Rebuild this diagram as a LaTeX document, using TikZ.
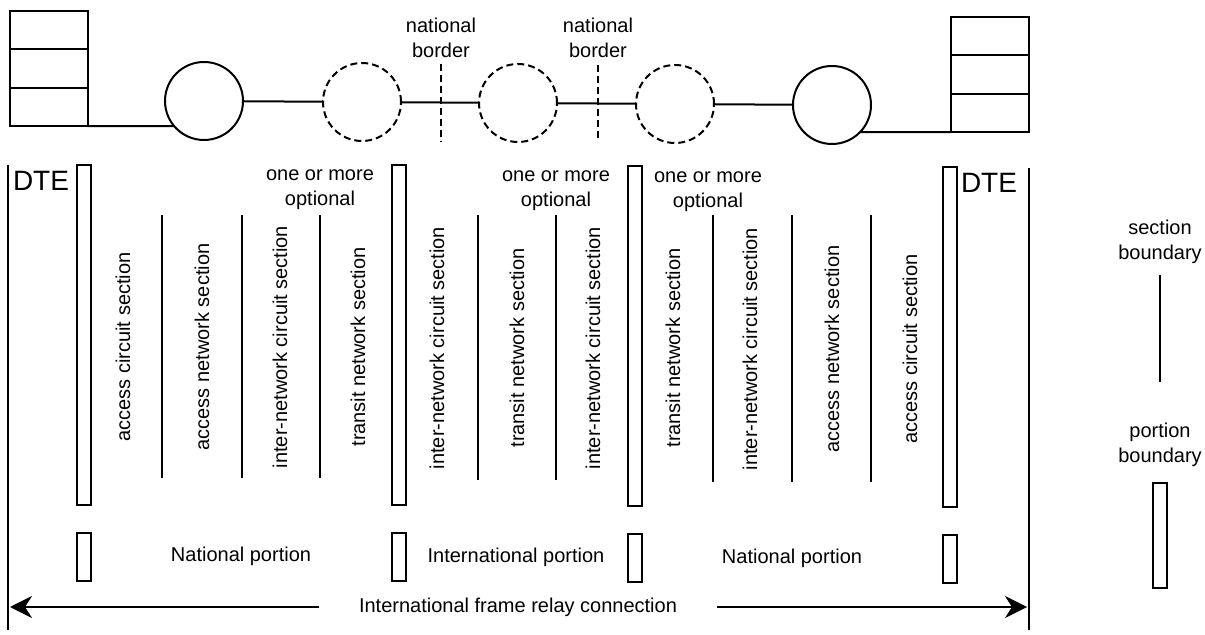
\documentclass[tikz,border=0pt]{standalone}
\usepackage{fontspec}
\setmainfont{Liberation Sans}
\usetikzlibrary{positioning, arrows.meta}
\tikzset{
  cell/.style={draw, minimum width=39pt, minimum height=19.2pt, inner sep=0, outer sep=0},
  exch/.style={draw, circle, minimum size=39pt, inner sep=0, outer sep=0},
  optexch/.style={exch, dash pattern=on 3.5pt off 2pt},
  border/.style={dash pattern=on 3.5pt off 2pt},
  portbox/.style={draw, minimum width=7pt, inner sep=0},
  lbl/.style={font=\fontsize{10}{12.5}\selectfont, align=center},
  sect/.style={lbl, rotate=90},
  conn/.style={-{Stealth[length=11pt, width=11pt, inset=3.5pt]}},
}
\begin{document}
\begin{tikzpicture}[x=0.5pt, y=-0.5pt, line width=1pt]
  \useasboundingbox (0,0) rectangle (1205,635);

  \node[cell]                   (dteL1) at (48.5,30.2) {};
  \node[cell, below=0pt of dteL1] (dteL2) {};
  \node[cell, below=0pt of dteL2] (dteL3) {};
  \node[cell]                   (dteR1) at (989.5,36.2) {};
  \node[cell, below=0pt of dteR1] (dteR2) {};
  \node[cell, below=0pt of dteR2] (dteR3) {};

  \node[exch]    (c1) at (204,101) {};
  \node[optexch] (c2) at (362,102) {};
  \node[optexch] (c3) at (518,103) {};
  \node[optexch] (c4) at (675,104) {};
  \node[exch]    (c5) at (832,105) {};

  \draw (dteL3.south east) -- (dteL3.south east -| c1.220)
        (c1) -- (c2)
        (c2) -- (c3)
        (c3) -- (c4)
        (c4) -- (c5)
        (dteR3.south west -| c5.318) -- (dteR3.south west);

  \node[lbl] (nb1) at (441,38) {national\\border};
  \node[lbl] (nb2) at (598,38) {national\\border};
  \draw[border] (441,64) -- (441,142);
  \draw[border] (598,65) -- (598,142);

  \draw (8,165) -- (8,630);
  \draw (1029,168) -- (1029,630);
  \node[font=\fontsize{14}{14}\selectfont] (dteLtxt) at (41,181) {DTE};
  \node[font=\fontsize{14}{14}\selectfont] (dteRtxt) at (989,183) {DTE};

  \node[portbox, minimum height=170pt] (pb1) at (84,335) {};
  \node[portbox, minimum height=170pt] (pb2) at (399,335) {};
  \node[portbox, minimum height=170pt] (pb3) at (634.5,336) {};
  \node[portbox, minimum height=170pt] (pb4) at (950,337) {};

  \draw (162,215) -- (162,478)
        (242,215) -- (242,478)
        (320,215) -- (320,478)
        (478,215) -- (478,480)
        (556,215) -- (556,480)
        (713,215) -- (713,482)
        (792,215) -- (792,482)
        (871,215) -- (871,482);

  \node[lbl] (opt1) at (320,190) {one or more\\optional};
  \node[lbl] (opt2) at (556,191) {one or more\\optional};
  \node[lbl] (opt3) at (708,192) {one or more\\optional};

  \node[sect] (s1)  at (123,347) {access circuit section};
  \node[sect] (s2)  at (202,347) {access network section};
  \node[sect] (s3)  at (280,347) {inter-network circuit section};
  \node[sect] (s4)  at (358,347) {transit network section};
  \node[sect] (s5)  at (437,348) {inter-network circuit section};
  \node[sect] (s6)  at (517,348) {transit network section};
  \node[sect] (s7)  at (593,348) {inter-network circuit section};
  \node[sect] (s8)  at (673,348) {transit network section};
  \node[sect] (s9)  at (750,349) {inter-network circuit section};
  \node[sect] (s10) at (832,349) {access network section};
  \node[sect] (s11) at (910,349) {access circuit section};

  \node[portbox, minimum height=24pt] (bb1) at (84,557) {};
  \node[portbox, minimum height=24pt] (bb2) at (399,557) {};
  \node[portbox, minimum height=24pt] (bb3) at (634.5,558) {};
  \node[portbox, minimum height=24pt] (bb4) at (950,559) {};
  \node[lbl] (np1) at (241,556) {National portion};
  \node[lbl] (ip)  at (516,557) {International portion};
  \node[lbl] (np2) at (792,558) {National portion};

  \node[lbl] (frc) at (518,607) {International frame relay connection};
  \coordinate (lend) at (10,607);
  \coordinate (rend) at (1027,607);
  \draw[conn, shorten <=16pt] (frc.west) -- (lend);
  \draw[conn, shorten <=16pt] (frc.east) -- (rend);

  \node[lbl] (lsec) at (1160,242) {section\\boundary};
  \draw (1160,275) -- (1160,382);
  \node[lbl] (lpor) at (1160,445) {portion\\boundary};
  \node[portbox, minimum height=52.5pt] (lpb) at (1160,535.5) {};
\end{tikzpicture}
\end{document}
